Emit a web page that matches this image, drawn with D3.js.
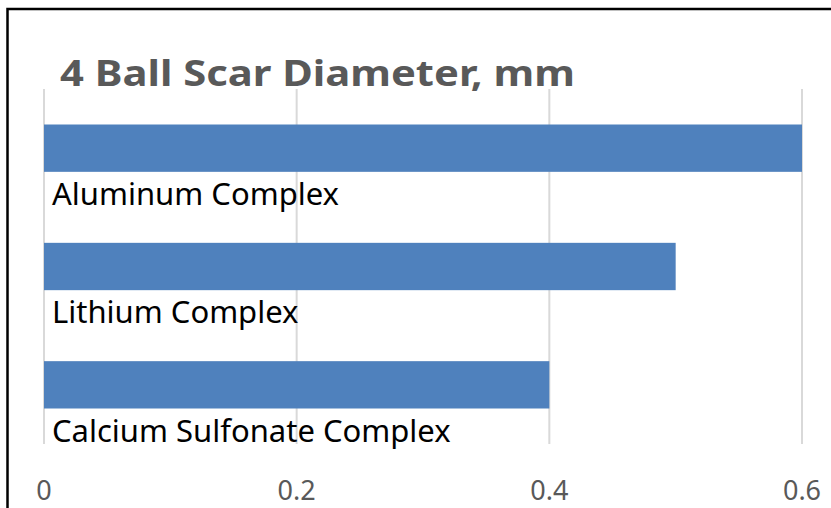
<!DOCTYPE html>
<html>
<head>
<meta charset="utf-8">
<script src="https://cdn.jsdelivr.net/npm/d3@7"></script>
<style>
  html, body { margin: 0; padding: 0; background: #fff; overflow: hidden; }
  svg { display: block; }
</style>
</head>
<body>
<svg id="chart" width="831" height="508"></svg>
<script>
// chart data
const categories = ['Aluminum Complex', 'Lithium Complex', 'Calcium Sulfonate Complex']
const values = [0.6, 0.5, 0.4]
const tickValues = [0, 0.2, 0.4, 0.6]
const title = '4 Ball Scar Diameter, mm'

const font = '"Noto Sans", "Open Sans", sans-serif'

const svg = d3.select('#chart')

// outer frame (runs off the right and bottom edges)
svg.append('rect')
  .attr('x', 7.5)
  .attr('y', 9)
  .attr('width', 900)
  .attr('height', 600)
  .attr('fill', '#fff')
  .attr('stroke', '#000')
  .attr('stroke-width', 2.5)

const x = d3.scaleLinear()
  .domain([0, 0.6])
  .range([44, 802])

const y = d3.scaleBand()
  .domain(categories)
  .range([89, 444])
  .paddingInner(0.6)
  .paddingOuter(0.3)

// gridlines
svg.append('g')
  .selectAll('line')
  .data(tickValues)
  .enter().append('line')
  .attr('x1', d => x(d))
  .attr('x2', d => x(d))
  .attr('y1', 89)
  .attr('y2', 444)
  .attr('stroke', '#d9d9d9')
  .attr('stroke-width', 2)

// bars
svg.append('g')
  .selectAll('rect')
  .data(values)
  .enter().append('rect')
  .attr('x', x(0))
  .attr('y', (d, i) => y(categories[i]))
  .attr('width', d => x(d) - x(0))
  .attr('height', y.bandwidth())
  .attr('fill', '#4f81bd')

// category labels under each bar
svg.append('g')
  .selectAll('text')
  .data(categories)
  .enter().append('text')
  .attr('x', 52)
  .attr('y', d => y(d) + y.bandwidth() + 33)
  .attr('font-family', font)
  .attr('font-size', '31px')
  .attr('fill', '#000')
  .text(d => d)

// x axis tick labels
svg.append('g')
  .selectAll('text')
  .data(tickValues)
  .enter().append('text')
  .attr('x', d => x(d))
  .attr('y', 500)
  .attr('text-anchor', 'middle')
  .attr('font-family', font)
  .attr('font-size', '27px')
  .attr('fill', '#595959')
  .text(d => d3.format('')(d))

// title, stretched a bit to match the wider original face
svg.append('text')
  .attr('x', 60)
  .attr('y', 86)
  .attr('font-family', font)
  .attr('font-size', '35px')
  .attr('font-weight', 'bold')
  .attr('fill', '#595959')
  .attr('textLength', 515)
  .attr('lengthAdjust', 'spacingAndGlyphs')
  .text(title)
</script>
</body>
</html>
